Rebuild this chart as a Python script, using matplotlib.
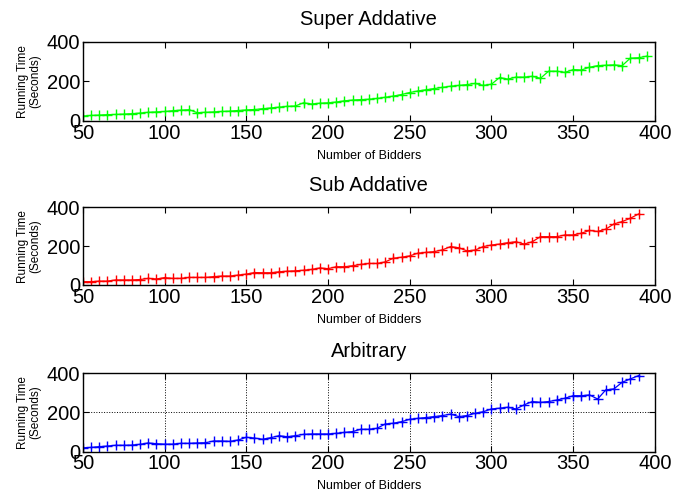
import numpy as np
import matplotlib
matplotlib.use('Agg')
import matplotlib.pyplot as plt

# number of bidders (5 step), running time in seconds
bidders_super = np.arange(50, 400, 5)
time_super = [25, 28, 30, 32, 33, 35, 37, 40, 44, 46,
              48, 52, 55, 57, 42, 44, 46, 48, 50, 53,
              56, 58, 62, 66, 70, 74, 76, 92, 86, 90,
              92, 96, 102, 106, 108, 110, 114, 120, 126, 134,
              144, 152, 158, 164, 170, 176, 180, 184, 190, 180,
              186, 220, 212, 222, 222, 226, 216, 252, 252, 246,
              260, 258, 272, 280, 282, 284, 280, 318, 320, 328]

bidders_sub = np.arange(50, 395, 5)
time_sub = [17, 17, 20, 20, 26, 26, 26, 28, 34, 31,
            38, 34, 34, 39, 39, 39, 43, 46, 46, 51,
            56, 64, 63, 63, 68, 71, 73, 76, 80, 88,
            84, 94, 94, 99, 106, 111, 111, 119, 138, 143,
            150, 164, 168, 172, 181, 198, 192, 176, 180, 198,
            206, 211, 218, 223, 211, 223, 249, 249, 249, 258,
            258, 267, 281, 276, 288, 315, 327, 344, 366]

bidders_arb = np.arange(50, 395, 5)
time_arb = [19, 21, 25, 28, 32, 32, 33, 37, 44, 40,
            38, 38, 42, 42, 44, 45, 54, 54, 52, 59,
            73, 69, 63, 71, 81, 76, 81, 88, 90, 90,
            90, 93, 98, 102, 114, 114, 119, 141, 145, 153,
            165, 170, 174, 179, 184, 192, 179, 184, 196, 204,
            218, 222, 227, 218, 239, 256, 252, 256, 264, 273,
            286, 286, 290, 269, 316, 321, 355, 372, 389]

# error bar half widths, mostly small, a few bigger ones
err_super = np.full(len(time_super), 7.0)
err_super[[27, 62, 66]] = 14
err_sub = np.full(len(time_sub), 7.0)
err_sub[[45, 38]] = 16
err_arb = np.full(len(time_arb), 7.0)
err_arb[[58, 60, 61, 20]] = 20

titles = ['Super Addative', 'Sub Addative', 'Arbitrary']
colors = [(0, 1, 0), (1, 0, 0), (0, 0, 1)]

plt.rcParams['font.family'] = ['Liberation Sans', 'DejaVu Sans']

fig = plt.figure(figsize=(6.85, 4.91), dpi=100)
boxes = [[0.121, 0.7536, 0.835, 0.161],
         [0.121, 0.4196, 0.835, 0.158],
         [0.121, 0.0804, 0.835, 0.159]]
series = [(bidders_super, time_super, err_super),
          (bidders_sub, time_sub, err_sub),
          (bidders_arb, time_arb, err_arb)]

for i, (box, (x, y, e)) in enumerate(zip(boxes, series)):
  ax = fig.add_axes(box)
  ax.errorbar(x, y, yerr=e, color=colors[i], marker='+', markersize=7.5,
              linewidth=0.9, elinewidth=0.9, capsize=0, markeredgewidth=1.0)
  ax.set_xlim(50, 400)
  ax.set_ylim(0, 400)
  ax.set_xticks([50, 100, 150, 200, 250, 300, 350, 400])
  ax.set_yticks([0, 200, 400])
  ax.tick_params(direction='in', top=True, right=True, labelsize=14.5,
                 length=4, pad=2)
  for s in ax.spines.values():
    s.set_linewidth(1.0)
  ax.set_title(titles[i], fontsize=14.5, pad=12)
  ax.set_xlabel('Number of Bidders', fontsize=9, labelpad=5)
  ax.set_ylabel('Running Time\n(Seconds)', fontsize=8.5, labelpad=4,
                linespacing=1.0)
  if i == 2:
    ax.grid(True, linestyle=':', color='black', linewidth=0.7)

plt.savefig('out.png', dpi=100)
